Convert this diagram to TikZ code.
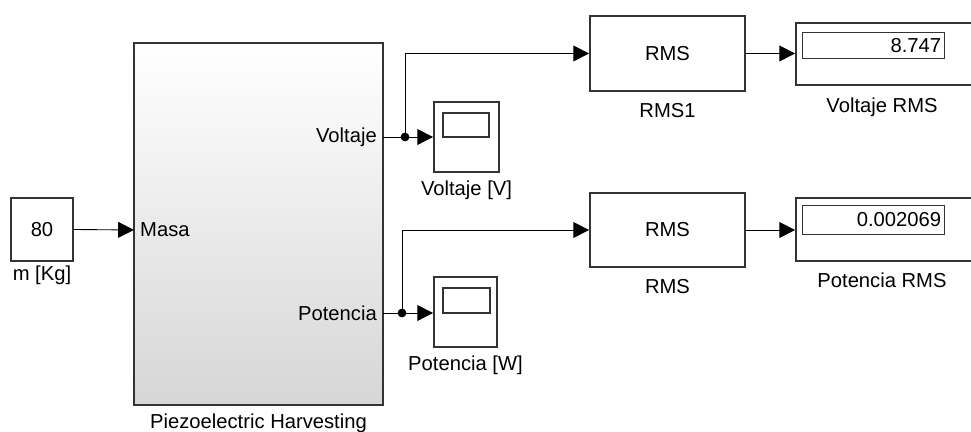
\documentclass[tikz,border=0pt]{standalone}
\usepackage{fontspec}
\setmainfont{Liberation Sans}
\usepackage{tikz}
\usetikzlibrary{arrows.meta,positioning}

\definecolor{blockline}{HTML}{333333}
\definecolor{shadegray}{HTML}{D6D6D6}

\begin{document}
\begin{tikzpicture}[x=0.02cm,y=-0.02cm,
    font=\fontsize{11.5}{13}\selectfont,
    block/.style={draw=blockline,line width=1pt,fill=white,inner sep=0pt},
    screen/.style={draw=blockline,line width=0.6pt,inner sep=0pt},
    sig/.style={line width=0.5pt,-{Triangle[length=9pt,width=9pt]}},
    wire/.style={line width=0.5pt},
    dot/.style={circle,fill=black,inner sep=0pt,minimum size=5pt}]
  \clip (0,0) rectangle (971,432);

  % source and subsystem
  \node[block,minimum width=1.24cm,minimum height=1.26cm] (mass) at (42,229.5) {80};
  \node[below=-1pt of mass] (massL) {m [Kg]};
  \node[block,top color=white,bottom color=shadegray,minimum width=4.98cm,minimum height=7.24cm] (piezo) at (258.5,224) {};
  \node[below=1pt of piezo] (piezoL) {Piezoelectric Harvesting};
  \coordinate (inMasa) at (134,230);
  \coordinate (outV) at (383,137);
  \coordinate (outP) at (383,313);
  \node[anchor=west] at (inMasa) {Masa};
  \node[anchor=east] at (outV) {Voltaje};
  \node[anchor=east] at (outP) {Potencia};

  % scopes
  \node[block,minimum width=1.3cm,minimum height=1.4cm] (scopeV) at (466.5,137) {};
  \node[screen,minimum width=0.92cm,minimum height=0.48cm] (scrV) at (466,125) {};
  \node[below=1pt of scopeV] (scopeVL) {Voltaje [V]};
  \node[block,minimum width=1.26cm,minimum height=1.4cm] (scopeP) at (465.5,312) {};
  \node[screen,minimum width=0.94cm,minimum height=0.5cm] (scrP) at (466.5,300.5) {};
  \node[below=1pt of scopeP] (scopePL) {Potencia [W]};

  % RMS blocks
  \node[block,minimum width=3.1cm,minimum height=1.5cm] (rmsV) at (667.5,53.5) {RMS};
  \node[below=3pt of rmsV] (rmsVL) {RMS1};
  \node[block,minimum width=3.1cm,minimum height=1.48cm] (rmsP) at (667.5,230) {RMS};
  \node[below=3pt of rmsP] (rmsPL) {RMS};

  % displays
  \node[block,minimum width=3.68cm,minimum height=1.24cm] (dispV) at (888,54) {};
  \node[screen,minimum width=2.84cm,minimum height=0.52cm,anchor=north west] (valV) at (802,32) {};
  \node[anchor=east,inner sep=2pt] at (valV.east) {8.747};
  \node (dispVL) at (882,107) {Voltaje RMS};
  \node[block,minimum width=3.68cm,minimum height=1.26cm] (dispP) at (888,229.5) {};
  \node[screen,minimum width=2.84cm,minimum height=0.58cm,anchor=north west] (valP) at (802,205) {};
  \node[anchor=east,inner sep=2pt] at (valP.east) {0.002069};
  \node (dispPL) at (882,280) {Potencia RMS};

  % branch points
  \node[dot] (brV) at (405,137) {};
  \node[dot] (brP) at (402,313) {};

  % signals
  \draw[sig] (mass.east) -- (inMasa);
  \draw[wire] (outV) -- (brV.center);
  \draw[sig] (brV.center) -- (scopeV.west);
  \draw[sig] (brV.center) |- (rmsV.west);
  \draw[sig] (rmsV.east) -- (dispV.west |- rmsV.east);
  \draw[wire] (outP) -- (brP.center);
  \draw[sig] (brP.center) -- (scopeP.west |- brP);
  \draw[sig] (brP.center) |- (rmsP.west);
  \draw[sig] (rmsP.east) -- (dispP.west |- rmsP.east);
\end{tikzpicture}
\end{document}
